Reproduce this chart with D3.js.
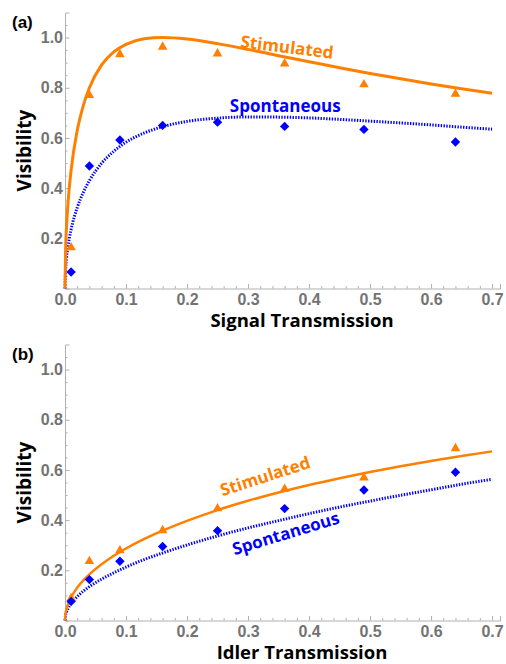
<!DOCTYPE html>
<html>
<head>
<meta charset="utf-8">
<script src="https://cdn.jsdelivr.net/npm/d3@7"></script>
<style>
  body { margin: 0; background: #fff; }
  svg { display: block; }
</style>
</head>
<body>
<div id="chart"></div>
<script>
// measured transmissions (x) for both panels
const measuredT = [0.01, 0.04, 0.09, 0.16, 0.25, 0.36, 0.49, 0.64];

// panel (a) - signal transmission
const aStimPoints = [0.167, 0.774, 0.937, 0.967, 0.94, 0.90, 0.817, 0.779];
const aSpontPoints = [0.066, 0.488, 0.592, 0.65, 0.663, 0.646, 0.634, 0.584];

// panel (b) - idler transmission
const bStimPoints = [0.092, 0.240, 0.283, 0.363, 0.450, 0.528, 0.573, 0.690];
const bSpontPoints = [0.076, 0.163, 0.236, 0.295, 0.358, 0.446, 0.520, 0.591];

// theory curves
const curveT = [0, 0.001, 0.0025, 0.005, 0.01, 0.02, 0.03, 0.04, 0.06, 0.08, 0.1, 0.13, 0.16,
                0.2, 0.25, 0.3, 0.35, 0.4, 0.45, 0.5, 0.55, 0.6, 0.65, 0.7];
const aStimCurve = [0, 0.157, 0.246, 0.343, 0.471, 0.629, 0.729, 0.8, 0.891, 0.943, 0.973, 0.995, 1.0,
                    0.994, 0.976, 0.953, 0.928, 0.904, 0.880, 0.857, 0.836, 0.815, 0.796, 0.778];
const aSpontCurve = [0, 0.076, 0.120, 0.168, 0.235, 0.322, 0.383, 0.430, 0.499, 0.547, 0.583, 0.620, 0.645,
                     0.666, 0.679, 0.684, 0.683, 0.680, 0.674, 0.667, 0.660, 0.652, 0.643, 0.635];
const bStimCurve = [0, 0.029, 0.046, 0.065, 0.092, 0.131, 0.160, 0.184, 0.224, 0.258, 0.287, 0.325, 0.358,
                    0.397, 0.440, 0.477, 0.510, 0.540, 0.567, 0.592, 0.615, 0.636, 0.656, 0.674];
const bSpontCurve = [0, 0.021, 0.034, 0.048, 0.067, 0.095, 0.117, 0.135, 0.165, 0.190, 0.213, 0.243, 0.269,
                     0.301, 0.337, 0.369, 0.398, 0.426, 0.452, 0.476, 0.499, 0.521, 0.543, 0.563];

const xMajor = [0, 0.1, 0.2, 0.3, 0.4, 0.5, 0.6, 0.7];
const yMajor = [0.2, 0.4, 0.6, 0.8, 1.0];

const orange = "#ff8000";
const blue = "#0000ff";
const tickFont = "'Liberation Sans', Arial, sans-serif";
const titleFont = "'Open Sans', sans-serif";

const svg = d3.select("#chart").append("svg").attr("width", 506).attr("height", 664);

function drawPanel(p) {
    const x = d3.scaleLinear().domain([0, 0.713]).range([65, 500]);
    const y = d3.scaleLinear().domain([0, 1.1]).range([p.bottom, p.bottom - 276]);
    const g = svg.append("g");

    // minor ticks
    const xMinor = d3.range(0, 0.711, 0.02).filter(v => Math.abs(v * 10 - Math.round(v * 10)) > 1e-6);
    const yMinor = d3.range(0.05, 1.1, 0.05).filter(v => Math.abs(v * 5 - Math.round(v * 5)) > 1e-6);

    g.append("g").attr("transform", `translate(0,${y(0)})`)
        .call(d3.axisBottom(x).tickValues(xMinor).tickSize(-2.5).tickFormat(""))
        .call(a => a.select(".domain").remove());
    g.append("g").attr("transform", `translate(${x(0)},0)`)
        .call(d3.axisLeft(y).tickValues(yMinor).tickSize(-2.5).tickFormat(""))
        .call(a => a.select(".domain").remove());

    const xAxis = g.append("g").attr("transform", `translate(0,${y(0)})`)
        .call(d3.axisBottom(x).tickValues(xMajor).tickSize(-4.5).tickPadding(5).tickFormat(d3.format(".1f")));
    const yAxis = g.append("g").attr("transform", `translate(${x(0)},0)`)
        .call(d3.axisLeft(y).tickValues(yMajor).tickSize(-4.5).tickPadding(2).tickFormat(d3.format(".1f")));

    g.selectAll(".tick line, .domain").attr("stroke", "#b0b0b0").attr("stroke-width", 1);
    [xAxis, yAxis].forEach(a => a.selectAll("text")
        .attr("fill", "#737373").attr("font-family", tickFont)
        .attr("font-weight", "bold").attr("font-size", "16px"));

    // theory curves
    const line = d3.line().x(d => x(d[0])).y(d => y(d[1])).curve(d3.curveMonotoneX);
    g.append("path")
        .datum(d3.zip(curveT, p.spontCurve))
        .attr("fill", "none").attr("stroke", blue)
        .attr("stroke-width", 3).attr("stroke-dasharray", "1.4,1.4")
        .attr("d", line);
    g.append("path")
        .datum(d3.zip(curveT, p.stimCurve))
        .attr("fill", "none").attr("stroke", orange)
        .attr("stroke-width", p.stimWidth)
        .attr("d", line);

    // measured points
    g.append("g").selectAll("path")
        .data(d3.zip(measuredT, p.stimPoints)).enter().append("path")
        .attr("transform", d => `translate(${x(d[0])},${y(d[1]) + 1})`)
        .attr("d", d3.symbol(d3.symbolTriangle, 40))
        .attr("fill", orange);
    g.append("g").selectAll("path")
        .data(d3.zip(measuredT, p.spontPoints)).enter().append("path")
        .attr("transform", d => `translate(${x(d[0])},${y(d[1])}) rotate(45)`)
        .attr("d", d3.symbol(d3.symbolSquare, 44))
        .attr("fill", blue);

    // curve labels
    p.labels.forEach(l => {
        g.append("text")
            .attr("transform", `translate(${x(l.t)},${y(l.v)}) rotate(${l.angle})`)
            .attr("text-anchor", "middle").attr("dy", "0.35em")
            .attr("fill", l.color).attr("font-family", titleFont)
            .attr("font-weight", "bold").attr("font-size", "17px")
            .text(l.text);
    });

    // axis titles
    g.append("text")
        .attr("transform", `translate(31,${y(0.55)}) rotate(-90)`)
        .attr("text-anchor", "middle")
        .attr("font-family", titleFont).attr("font-weight", "bold").attr("font-size", "19px")
        .text("Visibility");
    g.append("text")
        .attr("x", 302).attr("y", p.bottom + 38)
        .attr("text-anchor", "middle")
        .attr("font-family", titleFont).attr("font-weight", "bold").attr("font-size", "18.5px")
        .text(p.xTitle);

    // panel tag
    g.append("text")
        .attr("x", 12).attr("y", p.bottom - 261)
        .attr("font-family", tickFont).attr("font-weight", "bold").attr("font-size", "17px")
        .text(p.tag);
}

drawPanel({
    bottom: 288.5, tag: "(a)", xTitle: "Signal Transmission", stimWidth: 3,
    stimPoints: aStimPoints, spontPoints: aSpontPoints,
    stimCurve: aStimCurve, spontCurve: aSpontCurve,
    labels: [
        { text: "Stimulated", t: 0.364, v: 0.962, angle: 7, color: orange },
        { text: "Spontaneous", t: 0.361, v: 0.728, angle: 0, color: blue }
    ]
});

drawPanel({
    bottom: 620.5, tag: "(b)", xTitle: "Idler Transmission", stimWidth: 2.5,
    stimPoints: bStimPoints, spontPoints: bSpontPoints,
    stimCurve: bStimCurve, spontCurve: bSpontCurve,
    labels: [
        { text: "Stimulated", t: 0.328, v: 0.575, angle: -18, color: orange },
        { text: "Spontaneous", t: 0.362, v: 0.347, angle: -17, color: blue }
    ]
});
</script>
</body>
</html>
